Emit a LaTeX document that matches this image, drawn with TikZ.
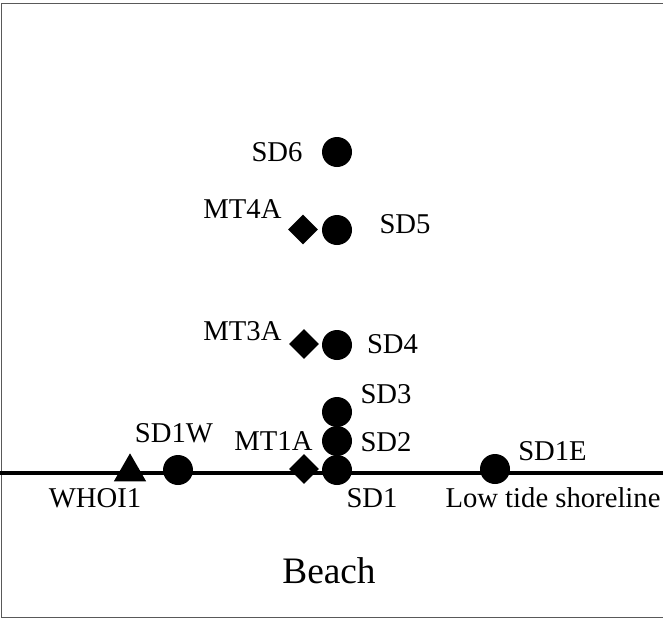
\documentclass[tikz,border=0pt]{standalone}
\usepackage{fontspec}
\setmainfont{Liberation Serif}
\usetikzlibrary{shapes.geometric}
\begin{document}
\begin{tikzpicture}[x=0.75pt,y=-0.75pt,
  dot/.style={circle,fill=black,inner sep=0pt,minimum size=22.5pt},
  dia/.style={diamond,fill=black,inner sep=0pt,minimum size=22.5pt},
  tri/.style={regular polygon,regular polygon sides=3,fill=black,inner sep=0pt,minimum size=28pt},
  lbl/.style={anchor=base,inner sep=0pt,font=\fontsize{21.5}{25}\selectfont},
  frame/.style={draw=black!65,line width=1.2pt}]
\useasboundingbox (0,0) rectangle (663,619);
% frame
\coordinate (f1) at (1.5,617.5);
\coordinate (f2) at (1.5,3.5);
\coordinate (f3) at (663,3.5);
\coordinate (f4) at (663,617.5);
\draw[frame] (f3) -- (f2) -- (f1) -- (f4);
% shoreline
\coordinate (sl) at (0,473);
\coordinate (sr) at (663,473);
\draw[line width=3pt] (sl) -- (sr);
% markers
\node[dot] (sd1) at (337,470) {};
\node[dot] (sd2) at (337,441) {};
\node[dot] (sd3) at (337,412) {};
\node[dot] (sd4) at (337,345) {};
\node[dot] (sd5) at (337,230) {};
\node[dot] (sd6) at (337,152) {};
\node[dot] (sd1w) at (178,470) {};
\node[dot] (sd1e) at (495,469) {};
\node[dia] (mt1a) at (304,469) {};
\node[dia] (mt3a) at (304,344) {};
\node[dia] (mt4a) at (303,229.5) {};
\node[tri] (whoi) at (130,472) {};
% labels
\node[lbl] (lsd6) at (277,161) {SD6};
\node[lbl] (lmt4a) at (242.5,218) {MT4A};
\node[lbl] (lsd5) at (405,233) {SD5};
\node[lbl] (lmt3a) at (242.5,340) {MT3A};
\node[lbl] (lsd4) at (392.5,353) {SD4};
\node[lbl] (lsd3) at (386,403) {SD3};
\node[lbl] (lsd2) at (386,451) {SD2};
\node[lbl] (lsd1) at (372,507) {SD1};
\node[lbl] (lsd1w) at (174,442) {SD1W};
\node[lbl] (lmt1a) at (273.5,450) {MT1A};
\node[lbl] (lwhoi) at (95,507) {WHOI1};
\node[lbl] (lsd1e) at (552.5,460) {SD1E};
\node[lbl] (llow) at (553,507) {Low tide shoreline};
\node[anchor=base,inner sep=0pt,font=\fontsize{28}{32}\selectfont] (beach) at (329,583) {Beach};
\end{tikzpicture}
\end{document}
